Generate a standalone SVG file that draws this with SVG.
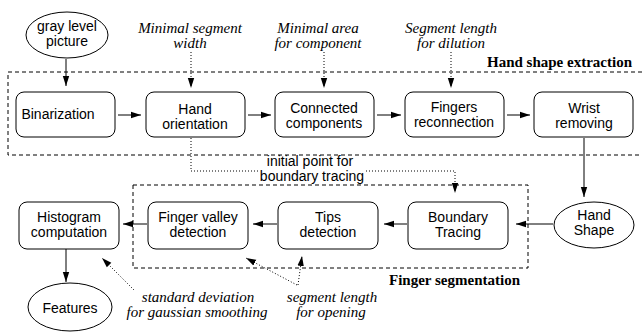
<svg xmlns="http://www.w3.org/2000/svg" width="642" height="332" viewBox="0 0 642 332">
<defs>
<style>
.box{fill:#fff;stroke:#000;stroke-width:1}
.ell{fill:#fff;stroke:#000;stroke-width:1}
.lbl{font-family:"Liberation Sans",Arial,sans-serif;font-size:14px;fill:#000;text-anchor:middle}
.it{font-family:"Liberation Serif","Times New Roman",serif;font-style:italic;font-size:15px;fill:#000;text-anchor:middle}
.bold{font-family:"Liberation Serif","Times New Roman",serif;font-weight:bold;font-size:15px;fill:#000;text-anchor:end}
.dash{fill:none;stroke:#000;stroke-width:1;stroke-dasharray:4,3}
.solid{fill:none;stroke:#000;stroke-width:1;marker-end:url(#ah)}
.dot{fill:none;stroke:#000;stroke-width:1;stroke-dasharray:1,2}
.dota{fill:none;stroke:#000;stroke-width:1;stroke-dasharray:1,2;marker-end:url(#ah)}
</style>
<marker id="ah" viewBox="0 -4 10 8" refX="10" refY="0" markerWidth="10" markerHeight="8" markerUnits="userSpaceOnUse" orient="auto">
<path d="M0,-3.2 L10,0 L0,3.2 z" fill="#000"/>
</marker>
</defs>
<rect width="642" height="332" fill="#fff"/>

<g id="group-hand-shape-extraction">
<rect class="dash" x="8" y="72" width="645" height="83"/>
<text class="bold" x="632" y="67">Hand shape extraction</text>
</g>
<g id="group-finger-segmentation">
<rect class="dash" x="133" y="185" width="395" height="83"/>
<text class="bold" x="520" y="285">Finger segmentation</text>
</g>

<g id="connectors">
<path class="solid" d="M66,59 V86"/>
<path class="dota" d="M191,52 V88"/>
<path class="dota" d="M324,52 V88"/>
<path class="dota" d="M451,52 V88"/>
<path class="solid" d="M118,115 H141"/>
<path class="solid" d="M248,115 H271"/>
<path class="solid" d="M377,115 H401"/>
<path class="solid" d="M507,115 H530"/>
<path class="solid" d="M584,138 V197"/>
<path class="dot" d="M191,138 V171 H258"/>
<path class="dota" d="M366,171 H455 V193"/>
<path class="solid" d="M553,224 H516"/>
<path class="solid" d="M407,224 H384"/>
<path class="solid" d="M277,224 H253"/>
<path class="solid" d="M147,224 H123"/>
<path class="solid" d="M66,249 V282"/>
<path class="dota" d="M134,290 L102,258"/>
<path class="dota" d="M297,285 L246,258"/>
<path class="dota" d="M298,285 L302,256"/>
</g>

<g id="node-gray-level-picture">
<ellipse class="ell" cx="67" cy="35" rx="41" ry="23"/>
<text class="lbl" x="67" y="31">gray level</text>
<text class="lbl" x="67" y="46">picture</text>
</g>
<g id="param-minimal-segment-width">
<text class="it" x="190" y="33">Minimal segment</text>
<text class="it" x="190" y="48">width</text>
</g>
<g id="param-minimal-area">
<text class="it" x="318" y="33">Minimal area</text>
<text class="it" x="318" y="48">for component</text>
</g>
<g id="param-segment-length-dilution">
<text class="it" x="451" y="33">Segment length</text>
<text class="it" x="451" y="48">for dilution</text>
</g>

<g id="node-binarization">
<rect class="box" x="16" y="92" width="99" height="45" rx="8"/>
<text class="lbl" x="58" y="119">Binarization</text>
</g>
<g id="node-hand-orientation">
<rect class="box" x="146" y="92" width="99" height="45" rx="8"/>
<text class="lbl" x="195" y="114">Hand</text>
<text class="lbl" x="195" y="129">orientation</text>
</g>
<g id="node-connected-components">
<rect class="box" x="275" y="92" width="99" height="45" rx="8"/>
<text class="lbl" x="324" y="113">Connected</text>
<text class="lbl" x="324" y="128">components</text>
</g>
<g id="node-fingers-reconnection">
<rect class="box" x="405" y="92" width="99" height="45" rx="8"/>
<text class="lbl" x="454" y="112">Fingers</text>
<text class="lbl" x="454" y="127">reconnection</text>
</g>
<g id="node-wrist-removing">
<rect class="box" x="534" y="92" width="99" height="45" rx="8"/>
<text class="lbl" x="584" y="113">Wrist</text>
<text class="lbl" x="584" y="128">removing</text>
</g>

<g id="label-initial-point">
<text class="lbl" x="310" y="166">initial point for</text>
<text class="lbl" x="312" y="181">boundary tracing</text>
</g>

<g id="node-hand-shape">
<ellipse class="ell" cx="594" cy="225" rx="40" ry="23"/>
<text class="lbl" x="594" y="220">Hand</text>
<text class="lbl" x="594" y="235">Shape</text>
</g>
<g id="node-boundary-tracing">
<rect class="box" x="408" y="202" width="100" height="47" rx="8"/>
<text class="lbl" x="458" y="222">Boundary</text>
<text class="lbl" x="458" y="237">Tracing</text>
</g>
<g id="node-tips-detection">
<rect class="box" x="278" y="202" width="100" height="47" rx="8"/>
<text class="lbl" x="328" y="222">Tips</text>
<text class="lbl" x="328" y="237">detection</text>
</g>
<g id="node-finger-valley-detection">
<rect class="box" x="148" y="202" width="100" height="47" rx="8"/>
<text class="lbl" x="198" y="222">Finger valley</text>
<text class="lbl" x="198" y="237">detection</text>
</g>
<g id="node-histogram-computation">
<rect class="box" x="19" y="202" width="100" height="47" rx="8"/>
<text class="lbl" x="69" y="222">Histogram</text>
<text class="lbl" x="69" y="237">computation</text>
</g>
<g id="node-features">
<ellipse class="ell" cx="70" cy="307" rx="42" ry="24"/>
<text class="lbl" x="70" y="313">Features</text>
</g>
<g id="param-standard-deviation">
<text class="it" x="198" y="302">standard deviation</text>
<text class="it" x="197" y="317">for gaussian smoothing</text>
</g>
<g id="param-segment-length-opening">
<text class="it" x="332" y="302">segment length</text>
<text class="it" x="331" y="317">for opening</text>
</g>
</svg>
